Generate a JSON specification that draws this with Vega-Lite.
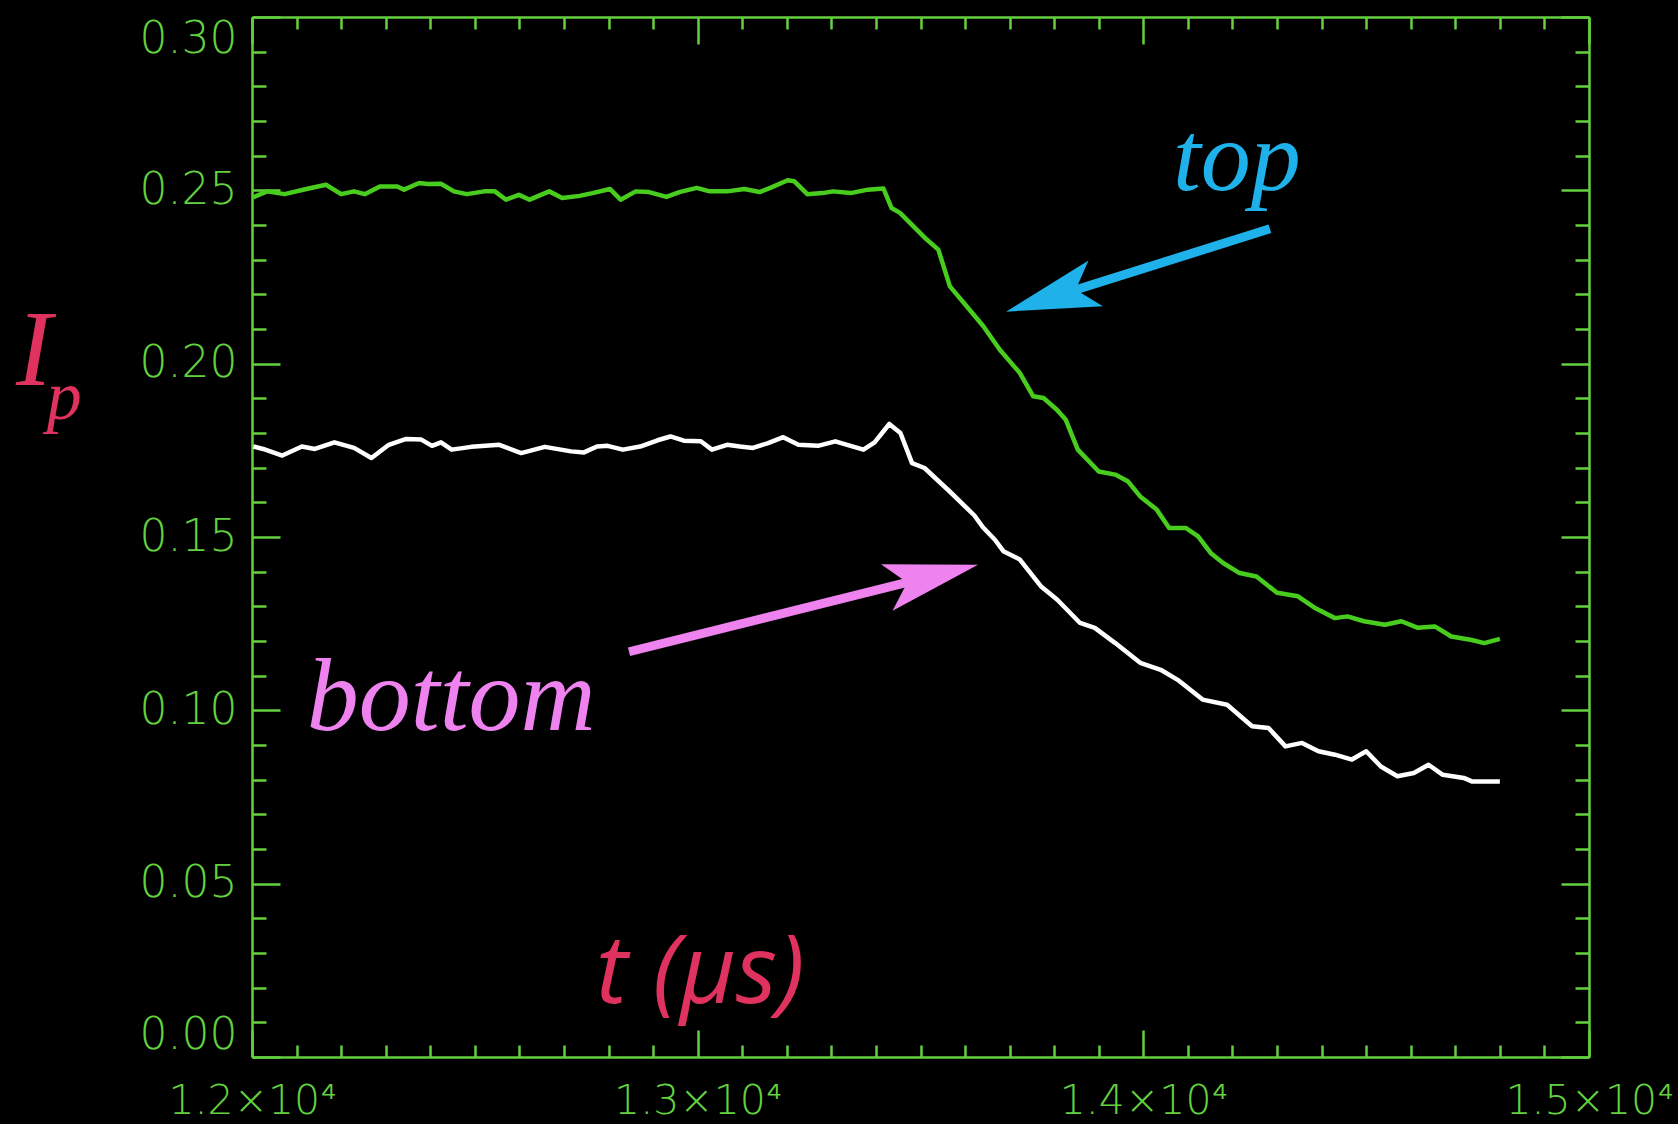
{
  "$schema": "https://vega.github.io/schema/vega-lite/v6.json",
  "width": 1337,
  "height": 1040,
  "autosize": {"type": "none"},
  "padding": {"left": 252, "top": 17, "right": 89, "bottom": 67},
  "background": "#000000",
  "config": {"view": {"stroke": null}, "axis": {"grid": false}},
  "datasets": {
    "curves": [
      {"series": "top", "t": 12003, "I": 0.2480}, {"series": "top", "t": 12034, "I": 0.2497}, {"series": "top", "t": 12073, "I": 0.2489},
      {"series": "top", "t": 12122, "I": 0.2504}, {"series": "top", "t": 12166, "I": 0.2516}, {"series": "top", "t": 12200, "I": 0.2489},
      {"series": "top", "t": 12229, "I": 0.2497}, {"series": "top", "t": 12253, "I": 0.2489}, {"series": "top", "t": 12287, "I": 0.2511},
      {"series": "top", "t": 12326, "I": 0.2511}, {"series": "top", "t": 12341, "I": 0.2502}, {"series": "top", "t": 12375, "I": 0.2521},
      {"series": "top", "t": 12394, "I": 0.2518}, {"series": "top", "t": 12424, "I": 0.2519}, {"series": "top", "t": 12453, "I": 0.2497},
      {"series": "top", "t": 12482, "I": 0.2489}, {"series": "top", "t": 12521, "I": 0.2497}, {"series": "top", "t": 12545, "I": 0.2497},
      {"series": "top", "t": 12570, "I": 0.2473}, {"series": "top", "t": 12599, "I": 0.2487}, {"series": "top", "t": 12623, "I": 0.2473},
      {"series": "top", "t": 12667, "I": 0.2497}, {"series": "top", "t": 12696, "I": 0.2478}, {"series": "top", "t": 12735, "I": 0.2484},
      {"series": "top", "t": 12764, "I": 0.2492}, {"series": "top", "t": 12803, "I": 0.2504}, {"series": "top", "t": 12827, "I": 0.2473},
      {"series": "top", "t": 12861, "I": 0.2497}, {"series": "top", "t": 12891, "I": 0.2495}, {"series": "top", "t": 12930, "I": 0.2481},
      {"series": "top", "t": 12959, "I": 0.2495}, {"series": "top", "t": 12998, "I": 0.2507}, {"series": "top", "t": 13027, "I": 0.2497},
      {"series": "top", "t": 13066, "I": 0.2497}, {"series": "top", "t": 13105, "I": 0.2504}, {"series": "top", "t": 13139, "I": 0.2495},
      {"series": "top", "t": 13163, "I": 0.2507}, {"series": "top", "t": 13202, "I": 0.2529}, {"series": "top", "t": 13217, "I": 0.2526},
      {"series": "top", "t": 13246, "I": 0.2489}, {"series": "top", "t": 13280, "I": 0.2492}, {"series": "top", "t": 13304, "I": 0.2497},
      {"series": "top", "t": 13343, "I": 0.2492}, {"series": "top", "t": 13382, "I": 0.2502}, {"series": "top", "t": 13417, "I": 0.2505},
      {"series": "top", "t": 13435, "I": 0.2449}, {"series": "top", "t": 13454, "I": 0.2435}, {"series": "top", "t": 13514, "I": 0.2358},
      {"series": "top", "t": 13540, "I": 0.2329}, {"series": "top", "t": 13566, "I": 0.2223}, {"series": "top", "t": 13604, "I": 0.2165},
      {"series": "top", "t": 13641, "I": 0.2108}, {"series": "top", "t": 13678, "I": 0.2040}, {"series": "top", "t": 13723, "I": 0.1973},
      {"series": "top", "t": 13753, "I": 0.1906}, {"series": "top", "t": 13776, "I": 0.1901}, {"series": "top", "t": 13806, "I": 0.1867},
      {"series": "top", "t": 13826, "I": 0.1838}, {"series": "top", "t": 13853, "I": 0.1752}, {"series": "top", "t": 13900, "I": 0.1689},
      {"series": "top", "t": 13937, "I": 0.1680}, {"series": "top", "t": 13965, "I": 0.1661}, {"series": "top", "t": 13993, "I": 0.1617},
      {"series": "top", "t": 14030, "I": 0.1579}, {"series": "top", "t": 14058, "I": 0.1526}, {"series": "top", "t": 14095, "I": 0.1526},
      {"series": "top", "t": 14123, "I": 0.1502}, {"series": "top", "t": 14151, "I": 0.1454}, {"series": "top", "t": 14179, "I": 0.1425},
      {"series": "top", "t": 14216, "I": 0.1396}, {"series": "top", "t": 14254, "I": 0.1386}, {"series": "top", "t": 14300, "I": 0.1339},
      {"series": "top", "t": 14347, "I": 0.1329}, {"series": "top", "t": 14384, "I": 0.1296}, {"series": "top", "t": 14430, "I": 0.1266},
      {"series": "top", "t": 14458, "I": 0.1271}, {"series": "top", "t": 14495, "I": 0.1257}, {"series": "top", "t": 14542, "I": 0.1247},
      {"series": "top", "t": 14579, "I": 0.1257}, {"series": "top", "t": 14616, "I": 0.1238}, {"series": "top", "t": 14654, "I": 0.1242},
      {"series": "top", "t": 14691, "I": 0.1213}, {"series": "top", "t": 14737, "I": 0.1203}, {"series": "top", "t": 14765, "I": 0.1194},
      {"series": "top", "t": 14800, "I": 0.1206},
      {"series": "bottom", "t": 12003, "I": 0.1761}, {"series": "bottom", "t": 12025, "I": 0.1754}, {"series": "bottom", "t": 12068, "I": 0.1735},
      {"series": "bottom", "t": 12112, "I": 0.1761}, {"series": "bottom", "t": 12141, "I": 0.1754}, {"series": "bottom", "t": 12185, "I": 0.1773},
      {"series": "bottom", "t": 12229, "I": 0.1757}, {"series": "bottom", "t": 12268, "I": 0.1728}, {"series": "bottom", "t": 12307, "I": 0.1766},
      {"series": "bottom", "t": 12346, "I": 0.1783}, {"series": "bottom", "t": 12380, "I": 0.1781}, {"series": "bottom", "t": 12404, "I": 0.1763},
      {"series": "bottom", "t": 12424, "I": 0.1773}, {"series": "bottom", "t": 12448, "I": 0.1752}, {"series": "bottom", "t": 12492, "I": 0.1760},
      {"series": "bottom", "t": 12555, "I": 0.1766}, {"series": "bottom", "t": 12604, "I": 0.1742}, {"series": "bottom", "t": 12657, "I": 0.1760},
      {"series": "bottom", "t": 12716, "I": 0.1747}, {"series": "bottom", "t": 12745, "I": 0.1744}, {"series": "bottom", "t": 12774, "I": 0.1761},
      {"series": "bottom", "t": 12798, "I": 0.1763}, {"series": "bottom", "t": 12832, "I": 0.1752}, {"series": "bottom", "t": 12871, "I": 0.1761},
      {"series": "bottom", "t": 12910, "I": 0.1779}, {"series": "bottom", "t": 12939, "I": 0.1790}, {"series": "bottom", "t": 12969, "I": 0.1778},
      {"series": "bottom", "t": 13007, "I": 0.1776}, {"series": "bottom", "t": 13032, "I": 0.1752}, {"series": "bottom", "t": 13066, "I": 0.1766},
      {"series": "bottom", "t": 13095, "I": 0.1761}, {"series": "bottom", "t": 13124, "I": 0.1757}, {"series": "bottom", "t": 13158, "I": 0.1771},
      {"series": "bottom", "t": 13192, "I": 0.1788}, {"series": "bottom", "t": 13226, "I": 0.1766}, {"series": "bottom", "t": 13270, "I": 0.1763},
      {"series": "bottom", "t": 13309, "I": 0.1776}, {"series": "bottom", "t": 13343, "I": 0.1763}, {"series": "bottom", "t": 13372, "I": 0.1752},
      {"series": "bottom", "t": 13397, "I": 0.1773}, {"series": "bottom", "t": 13430, "I": 0.1826}, {"series": "bottom", "t": 13455, "I": 0.1800},
      {"series": "bottom", "t": 13481, "I": 0.1713}, {"series": "bottom", "t": 13509, "I": 0.1699}, {"series": "bottom", "t": 13565, "I": 0.1632},
      {"series": "bottom", "t": 13621, "I": 0.1562}, {"series": "bottom", "t": 13640, "I": 0.1528}, {"series": "bottom", "t": 13667, "I": 0.1492},
      {"series": "bottom", "t": 13686, "I": 0.1459}, {"series": "bottom", "t": 13723, "I": 0.1435}, {"series": "bottom", "t": 13770, "I": 0.1358},
      {"series": "bottom", "t": 13807, "I": 0.1319}, {"series": "bottom", "t": 13858, "I": 0.1252}, {"series": "bottom", "t": 13891, "I": 0.1238},
      {"series": "bottom", "t": 13937, "I": 0.1194}, {"series": "bottom", "t": 13993, "I": 0.1137}, {"series": "bottom", "t": 14039, "I": 0.1117},
      {"series": "bottom", "t": 14077, "I": 0.1088}, {"series": "bottom", "t": 14133, "I": 0.1031}, {"series": "bottom", "t": 14188, "I": 0.1016},
      {"series": "bottom", "t": 14244, "I": 0.0954}, {"series": "bottom", "t": 14281, "I": 0.0949}, {"series": "bottom", "t": 14319, "I": 0.0896},
      {"series": "bottom", "t": 14356, "I": 0.0906}, {"series": "bottom", "t": 14393, "I": 0.0882}, {"series": "bottom", "t": 14430, "I": 0.0872},
      {"series": "bottom", "t": 14468, "I": 0.0858}, {"series": "bottom", "t": 14500, "I": 0.0882}, {"series": "bottom", "t": 14533, "I": 0.0838},
      {"series": "bottom", "t": 14570, "I": 0.0810}, {"series": "bottom", "t": 14607, "I": 0.0819}, {"series": "bottom", "t": 14640, "I": 0.0843},
      {"series": "bottom", "t": 14672, "I": 0.0814}, {"series": "bottom", "t": 14719, "I": 0.0805}, {"series": "bottom", "t": 14737, "I": 0.0795},
      {"series": "bottom", "t": 14800, "I": 0.0795}
    ],
    "notes": [
      {"label": "top", "t": 14210, "I": 0.2502},
      {"label": "bottom", "t": 12447, "I": 0.0944},
      {"label": "t (µs)", "t": 13006, "I": 0.0157},
      {"label": "I", "t": 11511, "I": 0.1939},
      {"label": "p", "t": 11579, "I": 0.1841}
    ],
    "arrows": [
      {"arrow": "top", "t": 14284, "I": 0.2389, "t2": 13831, "I2": 0.2206, "tipT": 13692, "tipI": 0.2150},
      {"arrow": "bottom", "t": 12846, "I": 0.1169, "t2": 13488, "I2": 0.1375, "tipT": 13629, "tipI": 0.1420}
    ]
  },
  "resolve": {"axis": {"x": "independent", "y": "independent"}},
  "layer": [
    {
      "data": {"name": "curves"},
      "mark": {"type": "line", "strokeWidth": 4.5, "strokeJoin": "round"},
      "encoding": {
        "x": {"field": "t", "type": "quantitative",
          "scale": {"domain": [12000, 15000], "nice": false, "zero": false},
          "axis": {"orient": "bottom", "values": [12000, 13000, 14000, 15000], "title": null,
            "tickSize": -27, "tickWidth": 2.5, "tickColor": "#63d13f",
            "domainColor": "#63d13f", "domainWidth": 2.5,
            "labelExpr": "format(datum.value / 10000, '.1f') + '×10⁴'",
            "labelFont": "DejaVu Sans", "labelFontWeight": 200, "labelFontSize": 41,
            "labelColor": "#63d13f", "labelPadding": 51, "labelLimit": 0,
            "labelFlush": false, "labelOverlap": false, "labelBound": false}},
        "y": {"field": "I", "type": "quantitative",
          "scale": {"domain": [0, 0.3], "nice": false, "zero": false},
          "axis": {"orient": "left", "values": [0, 0.05, 0.1, 0.15, 0.2, 0.25, 0.3], "title": null,
            "tickSize": -28, "tickWidth": 2.5, "tickColor": "#63d13f",
            "domainColor": "#63d13f", "domainWidth": 2.5, "format": ".2f",
            "labelFont": "DejaVu Sans", "labelFontWeight": 200, "labelFontSize": 44,
            "labelColor": "#63d13f", "labelPadding": 43, "labelLimit": 0,
            "labelFlush": true, "labelFlushOffset": 0, "labelOverlap": false, "labelBound": false}},
        "color": {"field": "series", "type": "nominal",
          "scale": {"domain": ["top", "bottom"], "range": ["#48cc1e", "#ffffff"]}, "legend": null}
      }
    },
    {
      "data": {"name": "arrows"},
      "transform": [{"filter": "datum.arrow == 'top'"}],
      "mark": {"type": "rule", "strokeWidth": 9, "color": "#1fb2ea", "strokeCap": "butt"},
      "encoding": {
        "x": {"field": "t", "type": "quantitative",
          "scale": {"domain": [12000, 15000], "nice": false, "zero": false},
          "axis": {"orient": "bottom", "title": null, "labels": false, "domain": false,
            "values": [12100, 12200, 12300, 12400, 12500, 12600, 12700, 12800, 12900, 13100, 13200, 13300, 13400, 13500, 13600, 13700, 13800, 13900, 14100, 14200, 14300, 14400, 14500, 14600, 14700, 14800, 14900],
            "tickSize": -12, "tickWidth": 2.5, "tickColor": "#63d13f"}},
        "y": {"field": "I", "type": "quantitative",
          "scale": {"domain": [0, 0.3], "nice": false, "zero": false},
          "axis": {"orient": "left", "title": null, "labels": false, "domain": false,
            "values": [0.01, 0.02, 0.03, 0.04, 0.06, 0.07, 0.08, 0.09, 0.11, 0.12, 0.13, 0.14, 0.16, 0.17, 0.18, 0.19, 0.21, 0.22, 0.23, 0.24, 0.26, 0.27, 0.28, 0.29],
            "tickSize": -14, "tickWidth": 2.5, "tickColor": "#63d13f"}},
        "x2": {"field": "t2"},
        "y2": {"field": "I2"}
      }
    },
    {
      "data": {"name": "arrows"},
      "transform": [{"filter": "datum.arrow == 'bottom'"}],
      "mark": {"type": "rule", "strokeWidth": 9, "color": "#ee82ee", "strokeCap": "butt"},
      "encoding": {
        "x": {"field": "t", "type": "quantitative",
          "scale": {"domain": [12000, 15000], "nice": false, "zero": false},
          "axis": {"orient": "top", "title": null, "labels": false,
            "values": [12000, 13000, 14000, 15000],
            "tickSize": -27, "tickWidth": 2.5, "tickColor": "#63d13f",
            "domainColor": "#63d13f", "domainWidth": 2.5}},
        "y": {"field": "I", "type": "quantitative",
          "scale": {"domain": [0, 0.3], "nice": false, "zero": false},
          "axis": {"orient": "right", "title": null, "labels": false,
            "values": [0, 0.05, 0.1, 0.15, 0.2, 0.25, 0.3],
            "tickSize": -28, "tickWidth": 2.5, "tickColor": "#63d13f",
            "domainColor": "#63d13f", "domainWidth": 2.5}},
        "x2": {"field": "t2"},
        "y2": {"field": "I2"}
      }
    },
    {
      "data": {"name": "arrows"},
      "transform": [{"filter": "datum.arrow == 'top'"}],
      "mark": {"type": "point", "shape": "M0,0L-1.88,-0.48L-1.46,0L-1.88,0.48Z", "size": 10000,
        "angle": 162.5, "filled": true, "color": "#1fb2ea", "opacity": 1, "strokeWidth": 0},
      "encoding": {
        "x": {"field": "tipT", "type": "quantitative",
          "scale": {"domain": [12000, 15000], "nice": false, "zero": false},
          "axis": {"orient": "top", "title": null, "labels": false, "domain": false,
            "values": [12100, 12200, 12300, 12400, 12500, 12600, 12700, 12800, 12900, 13100, 13200, 13300, 13400, 13500, 13600, 13700, 13800, 13900, 14100, 14200, 14300, 14400, 14500, 14600, 14700, 14800, 14900],
            "tickSize": -12, "tickWidth": 2.5, "tickColor": "#63d13f"}},
        "y": {"field": "tipI", "type": "quantitative",
          "scale": {"domain": [0, 0.3], "nice": false, "zero": false},
          "axis": {"orient": "right", "title": null, "labels": false, "domain": false,
            "values": [0.01, 0.02, 0.03, 0.04, 0.06, 0.07, 0.08, 0.09, 0.11, 0.12, 0.13, 0.14, 0.16, 0.17, 0.18, 0.19, 0.21, 0.22, 0.23, 0.24, 0.26, 0.27, 0.28, 0.29],
            "tickSize": -14, "tickWidth": 2.5, "tickColor": "#63d13f"}}
      }
    },
    {
      "data": {"name": "arrows"},
      "transform": [{"filter": "datum.arrow == 'bottom'"}],
      "mark": {"type": "point", "shape": "M0,0L-1.88,-0.48L-1.46,0L-1.88,0.48Z", "size": 10000,
        "angle": -14, "filled": true, "color": "#ee82ee", "opacity": 1, "strokeWidth": 0},
      "encoding": {
        "x": {"field": "tipT", "type": "quantitative", "scale": {"domain": [12000, 15000], "nice": false, "zero": false}, "axis": null},
        "y": {"field": "tipI", "type": "quantitative", "scale": {"domain": [0, 0.3], "nice": false, "zero": false}, "axis": null}
      }
    },
    {
      "data": {"name": "notes"},
      "transform": [{"filter": "datum.label == 'top'"}],
      "mark": {"type": "text", "font": "Liberation Serif", "fontStyle": "italic", "fontSize": 100,
        "color": "#1fb2ea", "align": "center", "baseline": "alphabetic"},
      "encoding": {
        "x": {"field": "t", "type": "quantitative", "scale": {"domain": [12000, 15000], "nice": false, "zero": false}, "axis": null},
        "y": {"field": "I", "type": "quantitative", "scale": {"domain": [0, 0.3], "nice": false, "zero": false}, "axis": null},
        "text": {"field": "label"}
      }
    },
    {
      "data": {"name": "notes"},
      "transform": [{"filter": "datum.label == 'bottom'"}],
      "mark": {"type": "text", "font": "Liberation Serif", "fontStyle": "italic", "fontSize": 104,
        "color": "#ee82ee", "align": "center", "baseline": "alphabetic"},
      "encoding": {
        "x": {"field": "t", "type": "quantitative", "scale": {"domain": [12000, 15000], "nice": false, "zero": false}, "axis": null},
        "y": {"field": "I", "type": "quantitative", "scale": {"domain": [0, 0.3], "nice": false, "zero": false}, "axis": null},
        "text": {"field": "label"}
      }
    },
    {
      "data": {"name": "notes"},
      "transform": [{"filter": "datum.label == 't (µs)'"}],
      "mark": {"type": "text", "font": "Open Sans", "fontStyle": "italic", "fontSize": 96,
        "color": "#e0325e", "align": "center", "baseline": "alphabetic"},
      "encoding": {
        "x": {"field": "t", "type": "quantitative", "scale": {"domain": [12000, 15000], "nice": false, "zero": false}, "axis": null},
        "y": {"field": "I", "type": "quantitative", "scale": {"domain": [0, 0.3], "nice": false, "zero": false}, "axis": null},
        "text": {"field": "label"}
      }
    },
    {
      "data": {"name": "notes"},
      "transform": [{"filter": "datum.label == 'I'"}],
      "mark": {"type": "text", "font": "Liberation Serif", "fontStyle": "italic", "fontSize": 108,
        "color": "#e0325e", "align": "center", "baseline": "alphabetic"},
      "encoding": {
        "x": {"field": "t", "type": "quantitative", "scale": {"domain": [12000, 15000], "nice": false, "zero": false}, "axis": null},
        "y": {"field": "I", "type": "quantitative", "scale": {"domain": [0, 0.3], "nice": false, "zero": false}, "axis": null},
        "text": {"field": "label"}
      }
    },
    {
      "data": {"name": "notes"},
      "transform": [{"filter": "datum.label == 'p'"}],
      "mark": {"type": "text", "font": "Liberation Serif", "fontStyle": "italic", "fontSize": 70,
        "color": "#e0325e", "align": "center", "baseline": "alphabetic"},
      "encoding": {
        "x": {"field": "t", "type": "quantitative", "scale": {"domain": [12000, 15000], "nice": false, "zero": false}, "axis": null},
        "y": {"field": "I", "type": "quantitative", "scale": {"domain": [0, 0.3], "nice": false, "zero": false}, "axis": null},
        "text": {"field": "label"}
      }
    }
  ]
}
